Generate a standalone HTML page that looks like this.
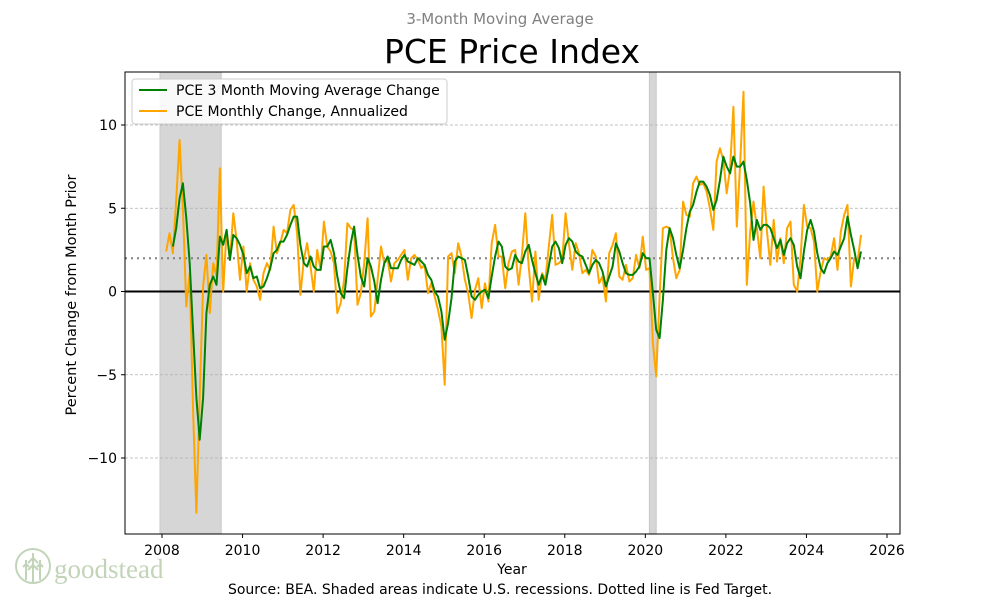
<!DOCTYPE html>
<html><head><meta charset="utf-8"><style>
body{margin:0;background:#fff;}
svg text{font-family:"DejaVu Sans","Liberation Sans",sans-serif;}
</style></head><body>
<svg id="chart" width="1000" height="600" viewBox="0 0 1000 600" xmlns="http://www.w3.org/2000/svg">
<rect width="1000" height="600" fill="#fff"/>
<text x="500" y="24" text-anchor="middle" font-size="15" fill="#808080">3-Month Moving Average</text>
<text x="512" y="63" text-anchor="middle" font-size="33" fill="#000">PCE Price Index</text>
<g id="rec"></g>
<g id="grid"></g>
<g id="lines"></g>
<rect x="125" y="72" width="775" height="462" fill="none" stroke="#000" stroke-width="1"/>
<g id="ticks"></g>
<text x="76" y="295" transform="rotate(-90 76 295)" text-anchor="middle" font-size="14.5">Percent Change from Month Prior</text>
<text x="512" y="574" text-anchor="middle" font-size="14">Year</text>
<text x="500" y="594" text-anchor="middle" font-size="14">Source: BEA. Shaded areas indicate U.S. recessions. Dotted line is Fed Target.</text>
<g>
<rect x="132" y="79" width="315" height="45" rx="3" fill="#fff" fill-opacity="0.85" stroke="#ccc"/>
<line x1="139" y1="90" x2="167" y2="90" stroke="#008000" stroke-width="2"/>
<text x="176" y="95" font-size="14">PCE 3 Month Moving Average Change</text>
<line x1="139" y1="111" x2="167" y2="111" stroke="#FFA500" stroke-width="2"/>
<text x="176" y="116" font-size="14">PCE Monthly Change, Annualized</text>
</g>
<g opacity="0.6">
<circle cx="33" cy="566" r="17" fill="none" stroke="#9bb88a" stroke-width="2"/>
<path d="M33 553 L33 582 M26 560 L26 580 M40 560 L40 580 M33 558 l-5 5 M33 558 l5 5 M33 565 l-5 5 M33 565 l5 5 M26 564 l-3 3 M26 564 l3 3 M40 564 l-3 3 M40 564 l3 3" stroke="#9bb88a" stroke-width="2" fill="none"/>
<text x="54" y="578" font-size="27" fill="#9bb88a" style="font-family:'Liberation Serif',serif">goodstead</text>
</g>
</svg>
<script>
const monthly=[2.4,3.5,2.3,5.5,9.1,5.0,-0.9,1.1,-7.0,-13.3,-6.3,0.3,2.2,-1.3,1.7,0.9,7.4,0.0,3.7,1.9,4.7,3.1,0.7,2.7,0.0,1.7,0.7,0.3,-0.5,1.1,1.7,1.3,3.9,2.3,2.9,3.7,3.5,4.9,5.2,3.5,-0.2,1.9,2.9,1.5,0.0,2.5,1.3,4.2,
2.7,2.4,1.7,-1.3,-0.7,0.7,4.1,3.8,3.7,-0.8,-0.1,1.7,4.4,-1.5,-1.2,0.7,2.7,1.7,1.9,0.6,1.7,1.9,2.2,2.5,0.7,2.0,2.2,1.9,1.4,1.6,-0.1,0.5,-0.3,-1.1,-2.1,-5.6,2.1,2.3,1.1,2.9,2.1,0.7,-0.1,-1.6,0.1,0.8,-1.0,0.5,-0.6,2.9,4.0,
2.1,2.1,0.2,1.7,2.4,2.5,0.4,2.2,4.7,1.5,-0.6,2.4,-0.5,1.1,0.7,2.7,4.6,1.6,1.7,1.9,4.7,2.9,1.3,2.9,2.3,1.1,1.3,1.0,2.5,2.1,0.5,0.9,-0.6,2.3,2.8,3.5,0.9,0.7,1.6,0.6,0.8,2.2,1.4,3.3,1.3,1.4,-3.1,-5.1,-0.3,3.8,
3.9,3.8,2.0,0.8,1.3,5.4,4.6,4.5,6.5,6.9,6.4,6.5,6.0,5.0,3.7,7.8,8.6,7.9,5.9,7.4,11.1,3.9,7.6,12.0,0.4,3.6,5.4,3.8,2.0,6.3,3.6,1.6,4.3,1.8,3.2,1.7,3.8,4.2,0.4,0.0,2.0,5.2,3.9,3.8,3.0,0.0,1.2,2.0,1.9,2.1,3.2,1.3,3.6,4.6,5.2,0.3,2.0,1.8,3.4];
const movingAvg=[null,null,2.7,3.8,5.6,6.5,4.4,1.7,-2.3,-6.4,-8.9,-6.4,-1.3,0.4,0.9,0.4,3.3,2.8,3.7,1.9,3.4,3.2,2.8,2.2,1.1,1.5,0.8,0.9,0.2,0.3,0.8,1.4,2.3,2.5,3.0,3.0,3.4,4.0,4.5,4.5,2.8,1.7,1.5,2.1,1.5,1.3,1.3,2.7,
2.7,3.1,2.3,0.9,-0.1,-0.4,1.4,2.9,3.9,2.2,0.9,0.3,2.0,1.5,0.6,-0.7,0.7,1.7,2.1,1.4,1.4,1.4,1.9,2.2,1.8,1.7,1.6,2.0,1.8,1.6,1.0,0.7,0.0,-0.3,-1.2,-2.9,-1.9,-0.4,1.8,2.1,2.0,1.9,0.9,-0.3,-0.5,-0.2,0.0,0.1,-0.4,0.9,2.1,
3.0,2.7,1.5,1.3,1.4,2.2,1.8,1.7,2.4,2.8,1.9,1.1,0.4,1.0,0.4,1.5,2.7,3.0,2.6,1.7,2.8,3.2,3.0,2.4,2.2,2.1,1.6,1.1,1.6,1.9,1.7,1.2,0.3,0.9,1.5,2.9,2.4,1.7,1.1,1.0,1.0,1.2,1.5,2.3,2.0,2.0,-0.1,-2.3,-2.8,-0.5,
2.5,3.8,3.2,2.2,1.4,2.5,3.8,4.8,5.2,6.0,6.6,6.6,6.3,5.8,4.9,5.5,6.7,8.1,7.5,7.1,8.1,7.5,7.5,7.8,6.7,5.3,3.1,4.3,3.7,4.0,4.0,3.8,3.2,2.6,3.1,2.2,2.9,3.2,2.8,1.5,0.8,2.4,3.7,4.3,3.6,2.3,1.4,1.1,1.7,2.0,2.4,2.2,2.7,3.2,4.5,3.4,2.5,1.4,2.4];
const yTicks=[-10,-5,0,5,10];
const xTicks=[2008,2010,2012,2014,2016,2018,2020,2022,2024,2026];
const recessions=[[2007.95,2009.47],[2020.1,2020.27]];
const fedTarget=2;
const startYear=2008,startMonth=2;

const L=125,R=900,T=72,B=534;
function xs(yr){return 162+(yr-2008)*(887-162)/18;}
function ys(v){return 291.5-v*16.65;}
function dateOf(i){return startYear+(startMonth-1+i)/12+0.02;}
const NS='http://www.w3.org/2000/svg';
function mk(tag,attrs,parent){const e=document.createElementNS(NS,tag);for(const k in attrs)e.setAttribute(k,attrs[k]);parent.appendChild(e);return e;}
const rec=document.getElementById('rec'),grid=document.getElementById('grid'),lines=document.getElementById('lines'),ticks=document.getElementById('ticks');
recessions.forEach(r=>{
  const e=mk('rect',{x:xs(r[0]),y:T,width:xs(r[1])-xs(r[0]),height:B-T,fill:'#d6d6d6',stroke:'#c8c8c8','stroke-width':1},rec);
  
  
});
yTicks.forEach(v=>{
  if(v!==0){const g=mk('line',{x1:L,x2:R,y1:ys(v),y2:ys(v),stroke:'#b0b0b0','stroke-width':0.8,'stroke-dasharray':'3,2'},grid);
  
  }
  const t=mk('line',{x1:L-4,x2:L,y1:ys(v),y2:ys(v),stroke:'#000'},ticks);
  
  
  const lb=mk('text',{x:L-8,y:ys(v)+5,'text-anchor':'end','font-size':14},ticks);
  lb.textContent=(v<0?'\u2212'+Math.abs(v):String(v));
  
  
});
xTicks.forEach(y=>{
  const t=mk('line',{x1:xs(y),x2:xs(y),y1:B,y2:B+4,stroke:'#000'},ticks);
  
  
  const lb=mk('text',{x:xs(y),y:B+21,'text-anchor':'middle','font-size':14},ticks);
  lb.textContent=y;
  
  
});
const fed=mk('line',{x1:L,x2:R,y1:ys(fedTarget),y2:ys(fedTarget),stroke:'#808080','stroke-width':2,'stroke-dasharray':'2,4'},grid);


const zero=mk('line',{x1:L,x2:R,y1:ys(0),y2:ys(0),stroke:'#000','stroke-width':2},grid);


function path(arr){let d='';arr.forEach((v,i)=>{if(v==null)return;d+=(d?'L':'M')+xs(dateOf(i)).toFixed(1)+' '+ys(v).toFixed(1);});return d;}
const p1=mk('path',{d:path(monthly),fill:'none',stroke:'#FFA500','stroke-width':2,'stroke-linejoin':'round'},lines);


const p2=mk('path',{d:path(movingAvg),fill:'none',stroke:'#008000','stroke-width':2,'stroke-linejoin':'round'},lines);


</script>
</body></html>
